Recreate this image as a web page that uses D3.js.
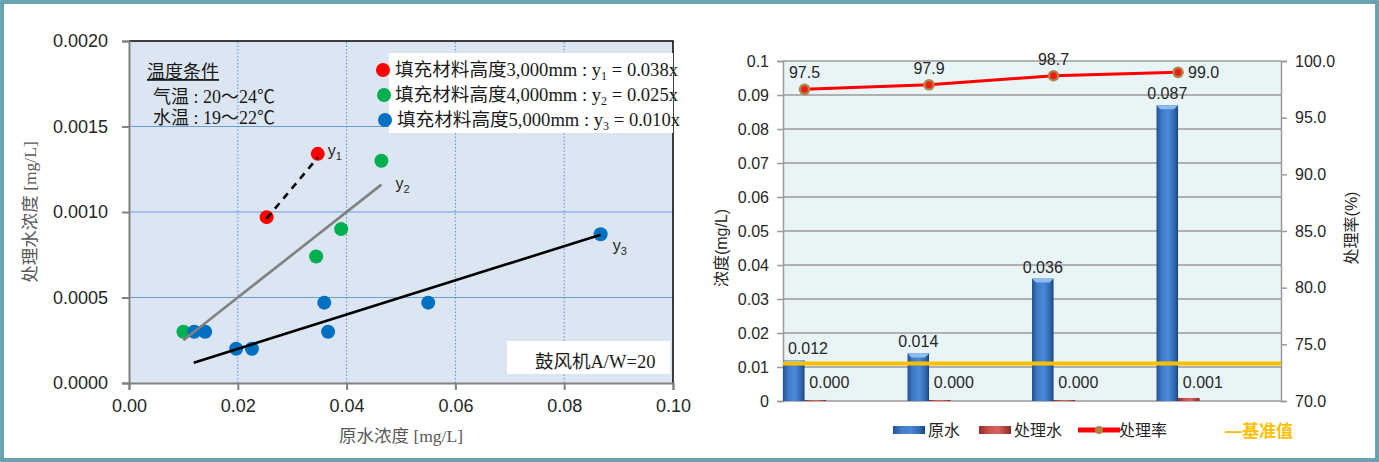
<!DOCTYPE html>
<html>
<head>
<meta charset="utf-8">
<script src="https://d3js.org/d3.v7.min.js"></script>
<style>
  body { margin: 0; background: #fff; }
  svg { display: block; }
</style>
</head>
<body>
<svg id="chart" width="1379" height="462"></svg>
<script>
// ---- left chart data (原水浓度 vs 处理水浓度) ----
const redPts = [[0.0253, 0.00097], [0.0347, 0.00134]]
const greenPts = [[0.0100, 0.00030], [0.0344, 0.00074], [0.0390, 0.00090], [0.0464, 0.00130]]
const bluePts = [
  [0.0120, 0.00030], [0.0140, 0.00030], [0.0197, 0.00020], [0.0226, 0.00020],
  [0.0359, 0.00047], [0.0366, 0.00030], [0.0550, 0.00047], [0.0867, 0.00087],
]
const fitSlopes = [0.038, 0.025, 0.010]
const fitRanges = [[0.0253, 0.0347], [0.0100, 0.0464], [0.0119, 0.0867]]
const fitNames = ['1', '2', '3']
const legendHeights = ['3,000', '4,000', '5,000']
const legendSlopes = ['0.038x', '0.025x', '0.010x']
const xTicksLeft = [0, 0.02, 0.04, 0.06, 0.08, 0.10]
const yTicksLeft = [0, 0.0005, 0.0010, 0.0015, 0.0020]

// ---- right chart data ----
const sites = ['1', '2', '3', '4']
const rawWater = [0.012, 0.014, 0.036, 0.087]
const treatedWater = [0.0003, 0.0003, 0.0003, 0.0009]
const removalRate = [97.5, 97.9, 98.7, 99.0]
const standardValue = 0.011
const yTicksConc = [0, 0.01, 0.02, 0.03, 0.04, 0.05, 0.06, 0.07, 0.08, 0.09, 0.1]
const yTicksRate = [70, 75, 80, 85, 90, 95, 100]

const svg = d3.select('#chart')
const sans = '"Liberation Sans", "Noto Sans CJK SC", sans-serif'
const serif = '"Liberation Serif", "Noto Sans CJK SC", serif'

// outer frame
svg.append('rect').attr('x', 2).attr('y', 2).attr('width', 1375).attr('height', 458)
  .attr('fill', 'none').attr('stroke', '#3d8797').attr('stroke-width', 3.5)
svg.append('rect').attr('x', 2).attr('y', 2).attr('width', 1375).attr('height', 458)
  .attr('fill', 'none').attr('stroke', '#a8cdd5').attr('stroke-width', 0.8)

// ================= LEFT CHART =================
const xL = d3.scaleLinear().domain([0, 0.1]).range([129, 673])
const yL = d3.scaleLinear().domain([0, 0.002]).range([383, 41])
const left = svg.append('g')

left.append('rect')
  .attr('x', xL(0)).attr('y', yL(0.002))
  .attr('width', xL(0.1) - xL(0)).attr('height', yL(0) - yL(0.002))
  .attr('fill', '#dce6f2')

// grid
left.selectAll('.hgrid').data(yTicksLeft.slice(1, -1)).enter().append('line')
  .attr('x1', xL(0)).attr('x2', xL(0.1))
  .attr('y1', d => yL(d)).attr('y2', d => yL(d))
  .attr('stroke', '#6a9ddc').attr('stroke-width', 1.2)
left.selectAll('.vgrid').data(xTicksLeft.slice(1, -1)).enter().append('line')
  .attr('y1', yL(0)).attr('y2', yL(0.002))
  .attr('x1', d => xL(d)).attr('x2', d => xL(d))
  .attr('stroke', '#5b8fd8').attr('stroke-width', 1).attr('stroke-dasharray', '1.5,2')

// frame top/right
left.append('path')
  .attr('d', `M${xL(0)},${yL(0.002)}H${xL(0.1)}V${yL(0)}`)
  .attr('fill', 'none').attr('stroke', '#000').attr('stroke-width', 1.5)

// axes
const axL = left.append('g').attr('transform', `translate(${xL(0)},0)`)
  .call(d3.axisLeft(yL).tickValues(yTicksLeft).tickFormat(d3.format('.4f')).tickSize(7).tickPadding(14))
const axB = left.append('g').attr('transform', `translate(0,${yL(0)})`)
  .call(d3.axisBottom(xL).tickValues(xTicksLeft).tickFormat(d3.format('.2f')).tickSize(7).tickPadding(9))
;[axL, axB].forEach(a => {
  a.select('.domain').attr('stroke', '#808080').attr('stroke-width', 2)
  a.selectAll('.tick line').attr('stroke', '#808080').attr('stroke-width', 2)
  a.selectAll('text').attr('font-family', sans).attr('font-size', 18).attr('fill', '#262626')
})

// axis titles
left.append('text')
  .attr('x', 401).attr('y', 442).attr('text-anchor', 'middle')
  .attr('font-family', serif).attr('font-size', 17.5).attr('fill', '#595959')
  .text('原水浓度 [mg/L]')
left.append('text')
  .attr('transform', 'translate(36,212) rotate(-90)').attr('text-anchor', 'middle')
  .attr('font-family', serif).attr('font-size', 17.5).attr('fill', '#595959')
  .text('处理水浓度 [mg/L]')

// points
const dotGroups = [[redPts, '#ff0000'], [greenPts, '#00b050'], [bluePts, '#0070c0']]
dotGroups.forEach(([pts, col]) => {
  left.append('g').selectAll('circle').data(pts).enter().append('circle')
    .attr('cx', d => xL(d[0])).attr('cy', d => yL(d[1])).attr('r', 7)
    .attr('fill', col)
})

// fit lines
const lineStyles = [
  { stroke: '#000', dash: '7,6' },
  { stroke: '#808080', dash: null },
  { stroke: '#000', dash: null },
]
fitSlopes.forEach((k, i) => {
  const [a, b] = fitRanges[i]
  left.append('line')
    .attr('x1', xL(a)).attr('y1', yL(a * k))
    .attr('x2', xL(b)).attr('y2', yL(b * k))
    .attr('stroke', lineStyles[i].stroke).attr('stroke-width', 2.6)
    .attr('stroke-dasharray', lineStyles[i].dash)
})

// fit labels y1, y2, y3
const fitLabelPos = [[10, -2], [14, 4], [12, 16]]
fitNames.forEach((n, i) => {
  const xe = fitRanges[i][1]
  const t = left.append('text')
    .attr('x', xL(xe) + fitLabelPos[i][0]).attr('y', yL(xe * fitSlopes[i]) + fitLabelPos[i][1])
    .attr('font-family', sans).attr('font-size', 16).attr('fill', '#262626')
  t.append('tspan').text('y')
  t.append('tspan').attr('font-size', 11).attr('dy', 4).text(n)
})

// temperature notes
left.append('text').attr('x', 147).attr('y', 78)
  .attr('font-family', serif).attr('font-size', 18).attr('fill', '#1a1a1a')
  .attr('text-decoration', 'underline').text('温度条件')
left.append('text').attr('x', 153).attr('y', 103)
  .attr('font-family', serif).attr('font-size', 18).attr('fill', '#1a1a1a')
  .text('气温 : 20～24℃')
left.append('text').attr('x', 153).attr('y', 124)
  .attr('font-family', serif).attr('font-size', 18).attr('fill', '#1a1a1a')
  .text('水温 : 19～22℃')

// legend box
left.append('rect').attr('x', 389).attr('y', 53).attr('width', 284).attr('height', 80).attr('fill', '#fff')
const legColors = dotGroups.map(g => g[1])
legendHeights.forEach((h, i) => {
  const cy = 70 + i * 25
  left.append('circle').attr('cx', 383 + i).attr('cy', cy).attr('r', 7).attr('fill', legColors[i])
  const t = left.append('text').attr('x', 395 + (i === 2 ? 2 : 0)).attr('y', cy + 6)
    .attr('font-family', serif).attr('font-size', 18.6).attr('fill', '#1a1a1a')
  t.append('tspan').text(`填充材料高度${h}mm : y`)
  t.append('tspan').attr('font-size', 12).attr('dy', 4).text(fitNames[i])
  t.append('tspan').attr('dy', -4).text(` = ${legendSlopes[i]}`)
})

// blower note
left.append('rect').attr('x', 507).attr('y', 341).attr('width', 163).attr('height', 33).attr('fill', '#fff')
left.append('text').attr('x', 535).attr('y', 368)
  .attr('font-family', serif).attr('font-size', 18.5).attr('fill', '#1a1a1a')
  .text('鼓风机A/W=20')

// ================= RIGHT CHART =================
const x = d3.scaleBand().domain(sites).range([783, 1281]).padding(0)
const yC = d3.scaleLinear().domain([0, 0.1]).range([401, 61])
const yR = d3.scaleLinear().domain([70, 100]).range([401, 61])
const barW = x.bandwidth() * 0.173
const right = svg.append('g')

const defs = svg.append('defs')
const mkGrad = (id, stops) => {
  const g = defs.append('linearGradient').attr('id', id).attr('x1', 0).attr('x2', 1).attr('y1', 0).attr('y2', 0)
  stops.forEach(([o, c]) => g.append('stop').attr('offset', o).attr('stop-color', c))
}
mkGrad('blueBar', [[0, '#24528f'], [0.25, '#3f7cc8'], [0.55, '#4a8ad6'], [0.85, '#2f65ad'], [1, '#1c4477']])
mkGrad('redBar', [[0, '#8f2d2a'], [0.3, '#c9514d'], [0.6, '#d9625e'], [1, '#8a2a27']])

right.append('rect')
  .attr('x', 783).attr('y', yC(0.1)).attr('width', 1281 - 783).attr('height', yC(0) - yC(0.1))
  .attr('fill', '#e9f4f7')

right.selectAll('.grid').data(yTicksConc.slice(1)).enter().append('line')
  .attr('x1', 783).attr('x2', 1281)
  .attr('y1', d => yC(d)).attr('y2', d => yC(d))
  .attr('stroke', '#9a9a9a').attr('stroke-width', 1.5)

const axC = right.append('g').attr('transform', 'translate(783,0)')
  .call(d3.axisLeft(yC).tickValues(yTicksConc).tickFormat(d3.format('~g')).tickSize(6).tickPadding(8))
const axR = right.append('g').attr('transform', 'translate(1281,0)')
  .call(d3.axisRight(yR).tickValues(yTicksRate).tickFormat(d3.format('.1f')).tickSize(6).tickPadding(8))
;[axC, axR].forEach(a => {
  a.select('.domain').attr('stroke', '#9a9a9a').attr('stroke-width', 1.5)
  a.selectAll('.tick line').attr('stroke', '#9a9a9a').attr('stroke-width', 1.5)
  a.selectAll('text').attr('font-family', sans).attr('font-size', 16).attr('fill', '#262626')
})
right.append('line').attr('x1', 783).attr('x2', 1281).attr('y1', 401).attr('y2', 401)
  .attr('stroke', '#9a9a9a').attr('stroke-width', 1.5)

right.append('text').attr('transform', 'translate(727,248) rotate(-90)').attr('text-anchor', 'middle')
  .attr('font-family', sans).attr('font-size', 16).attr('fill', '#262626').text('浓度(mg/L)')
right.append('text').attr('transform', 'translate(1357,228) rotate(-90)').attr('text-anchor', 'middle')
  .attr('font-family', sans).attr('font-size', 16).attr('fill', '#262626').text('处理率(%)')

// bars
const drawBar = (g, bx, val, fill, cap) => {
  const top = yC(val)
  g.append('rect').attr('x', bx).attr('y', top).attr('width', barW).attr('height', yC(0) - top)
    .attr('fill', fill)
  if (yC(0) - top > 6) {
    g.append('path')
      .attr('d', `M${bx},${top}H${bx + barW}L${bx + barW - 4},${top + 4}H${bx + 4}Z`)
      .attr('fill', cap)
  }
}
const bars = right.append('g')
sites.forEach((s, i) => {
  drawBar(bars, x(s), rawWater[i], 'url(#blueBar)', '#8dbdf0')
  drawBar(bars, x(s) + barW, treatedWater[i], 'url(#redBar)', '#e08a88')
})

// standard line
right.append('line').attr('x1', 783).attr('x2', 1281)
  .attr('y1', yC(standardValue)).attr('y2', yC(standardValue))
  .attr('stroke', '#ffc000').attr('stroke-width', 4)

// bar labels
const fmt3 = d3.format('.3f')
sites.forEach((s, i) => {
  const cx = Math.max(x(s) + barW / 2, 808)
  right.append('text').attr('x', cx).attr('y', yC(rawWater[i]) - 6).attr('text-anchor', 'middle')
    .attr('font-family', sans).attr('font-size', 16).attr('fill', '#262626').text(fmt3(rawWater[i]))
  right.append('text').attr('x', x(s) + barW * 1.5 + 14).attr('y', 388).attr('text-anchor', 'middle')
    .attr('font-family', sans).attr('font-size', 16).attr('fill', '#262626').text(fmt3(treatedWater[i]))
})

// removal rate line
const rateLine = d3.line().x((d, i) => x(sites[i]) + barW).y(d => yR(d))
right.append('path').datum(removalRate).attr('d', rateLine)
  .attr('fill', 'none').attr('stroke', '#ff0000').attr('stroke-width', 3)
const marks = right.append('g').selectAll('g').data(removalRate).enter().append('g')
  .attr('transform', (d, i) => `translate(${x(sites[i]) + barW},${yR(d)})`)
marks.append('circle').attr('r', 5.8).attr('fill', '#b08445')
marks.append('circle').attr('r', 3.4).attr('fill', '#ee1c14')
marks.append('text')
  .attr('x', (d, i) => i === removalRate.length - 1 ? 10 : 0)
  .attr('y', (d, i) => i === removalRate.length - 1 ? 6 : -11)
  .attr('text-anchor', (d, i) => i === removalRate.length - 1 ? 'start' : 'middle')
  .attr('font-family', sans).attr('font-size', 16).attr('fill', '#262626')
  .text(d => d3.format('.1f')(d))

// legend
const lg = right.append('g')
lg.append('rect').attr('x', 893).attr('y', 426).attr('width', 32).attr('height', 8).attr('fill', 'url(#blueBar)')
lg.append('text').attr('x', 928).attr('y', 436).attr('font-family', sans).attr('font-size', 16)
  .attr('fill', '#262626').text('原水')
lg.append('rect').attr('x', 979).attr('y', 426).attr('width', 32).attr('height', 8).attr('fill', 'url(#redBar)')
lg.append('text').attr('x', 1014).attr('y', 436).attr('font-family', sans).attr('font-size', 16)
  .attr('fill', '#262626').text('处理水')
lg.append('line').attr('x1', 1078).attr('x2', 1120).attr('y1', 430).attr('y2', 430)
  .attr('stroke', '#ff0000').attr('stroke-width', 5)
lg.append('circle').attr('cx', 1099).attr('cy', 430).attr('r', 4).attr('fill', '#b08445')
lg.append('text').attr('x', 1119).attr('y', 436).attr('font-family', sans).attr('font-size', 16)
  .attr('fill', '#262626').text('处理率')
lg.append('text').attr('x', 1225).attr('y', 437).attr('font-family', sans).attr('font-size', 17)
  .attr('font-weight', 'bold').attr('fill', '#ffc000').text('—基准值')
</script>
</body>
</html>
